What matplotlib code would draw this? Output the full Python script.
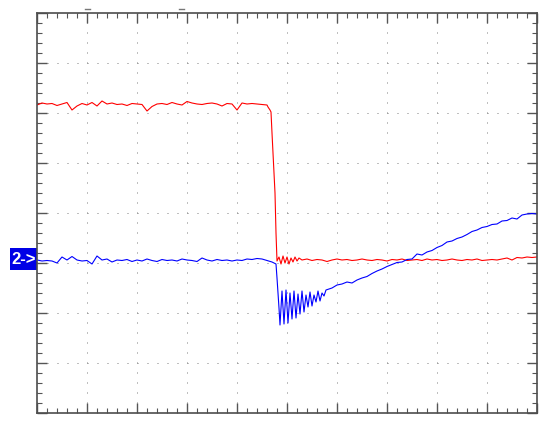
import numpy as np
import matplotlib
matplotlib.use('Agg')
import matplotlib.pyplot as plt
from matplotlib.ticker import MultipleLocator
from matplotlib.patches import Rectangle

# screen is 10 x 8 divisions, values below are in divisions
# channel 1 (red): high level, falling edge, low level
red_hi = [6.16, 6.20, 6.18, 6.19, 6.15, 6.18, 6.21, 6.06, 6.14, 6.19,
          6.16, 6.21, 6.14, 6.24, 6.18, 6.20, 6.17, 6.18, 6.15, 6.19,
          6.18, 6.17, 6.04, 6.13, 6.18, 6.19, 6.17, 6.21, 6.18, 6.16,
          6.23, 6.20, 6.18, 6.17, 6.19, 6.20, 6.18, 6.14, 6.19, 6.18,
          6.06, 6.20, 6.18, 6.19, 6.18, 6.17, 6.16]
red_edge_t = [4.62, 4.66, 4.68, 4.70, 4.72, 4.76, 4.78, 4.80]
red_edge = [6.12, 6.06, 6.02, 5.60, 5.20, 4.40, 3.60, 3.04]
red_settle = [3.12, 2.98, 3.14, 3.00, 3.12, 2.98, 3.10, 3.02, 3.12, 3.04, 3.10]
red_lo = [3.06, 3.08, 3.05, 3.07, 3.06, 3.03, 3.06, 3.08, 3.06, 3.07,
          3.05, 3.06, 3.08, 3.06, 3.05, 3.07, 3.06, 3.04, 3.07, 3.06,
          3.08, 3.05, 3.06, 3.07, 3.05, 3.08, 3.06, 3.07, 3.05, 3.06,
          3.08, 3.06, 3.05, 3.07, 3.06, 3.08, 3.05, 3.06, 3.07, 3.06,
          3.08, 3.10, 3.06, 3.11, 3.10, 3.12, 3.11, 3.12]

# channel 2 (blue): baseline, drop, ringing, slow recovery
blue_base = [3.06, 3.04, 3.05, 3.04, 3.00, 3.12, 3.06, 3.13, 3.06, 3.04,
             3.05, 2.98, 3.14, 3.06, 3.08, 3.02, 3.06, 3.05, 3.07, 3.03,
             3.06, 3.04, 3.08, 3.05, 3.03, 3.07, 3.05, 3.06, 3.04, 3.08,
             3.06, 3.05, 3.03, 3.10, 3.06, 3.04, 3.07, 3.05, 3.06, 3.04,
             3.06, 3.05, 3.08, 3.07, 3.09, 3.08, 3.05, 3.02]
blue_edge_t = [4.74, 4.78, 4.80, 4.82, 4.84]
blue_edge = [3.00, 2.98, 2.70, 2.40, 2.10]
blue_ring = [1.76, 2.44, 1.78, 2.46, 1.80, 2.40, 1.88, 2.44, 1.90, 2.38,
             1.98, 2.44, 2.02, 2.36, 2.12, 2.42, 2.14, 2.36, 2.22, 2.44,
             2.24, 2.40, 2.34, 2.46]
blue_rise = [2.50, 2.56, 2.58, 2.62, 2.60, 2.66, 2.70, 2.73, 2.79, 2.84,
             2.88, 2.93, 2.97, 3.01, 3.02, 3.07, 3.08, 3.18, 3.16, 3.22,
             3.25, 3.31, 3.35, 3.42, 3.44, 3.49, 3.52, 3.57, 3.63, 3.66,
             3.71, 3.73, 3.77, 3.78, 3.84, 3.85, 3.90, 3.88, 3.96, 3.98,
             3.99, 3.98]

ch2_level = 3.04
trig_marks = [1.0, 2.88]

# sample times
red_t = np.concatenate([0.1 * np.arange(len(red_hi)), red_edge_t,
                        4.84 + 0.04 * np.arange(len(red_settle)),
                        5.3 + 0.1 * np.arange(len(red_lo))])
red_y = np.concatenate([red_hi, red_edge, red_settle, red_lo])
blue_t = np.concatenate([0.1 * np.arange(len(blue_base)), blue_edge_t,
                         4.86 + 0.04 * np.arange(len(blue_ring)),
                         5.9 + 0.1 * np.arange(len(blue_rise))])
blue_y = np.concatenate([blue_base, blue_edge, blue_ring, blue_rise])

fig = plt.figure(figsize=(5.5, 4.25), dpi=100)
ax = fig.add_axes([37 / 550, 12 / 425, 500 / 550, 400 / 425])

ax.set_xlim(0, 10)
ax.set_ylim(0, 8)

# dotted graticule
ax.xaxis.set_major_locator(MultipleLocator(1))
ax.yaxis.set_major_locator(MultipleLocator(1))
ax.xaxis.set_minor_locator(MultipleLocator(0.2))
ax.yaxis.set_minor_locator(MultipleLocator(0.2))
ax.grid(True, which='major', color='#808080', linewidth=0.72, linestyle=(0, (1, 9)))
ax.tick_params(which='major', direction='in', length=7.2, width=1.0, color='#555555',
               top=True, right=True, labelbottom=False, labelleft=False)
ax.tick_params(which='minor', direction='in', length=3.6, width=0.8, color='#555555',
               top=True, right=True)
for s in ax.spines.values():
    s.set_color('#4d4d4d')
    s.set_linewidth(1.2)

ax.plot(red_t, red_y, color='#ff0000', linewidth=0.8)
ax.plot(blue_t, blue_y, color='#0000ff', linewidth=0.8)

# trigger markers above the screen
for xm in trig_marks:
    ax.plot([xm - 0.05, xm + 0.05], [8.08, 8.08], color='#777777', linewidth=1.0, clip_on=False)

# channel 2 ground marker
box = Rectangle((-27 / 500, ch2_level - 0.18), 27 / 500, 0.44,
                transform=ax.get_yaxis_transform(), facecolor='#0000e6',
                edgecolor='none', clip_on=False)
ax.add_patch(box)
ax.text(-13.5 / 500, ch2_level + 0.04, '2->', transform=ax.get_yaxis_transform(),
        ha='center', va='center', color='white', fontsize=12, fontweight='bold',
        family='Liberation Sans', clip_on=False)

fig.savefig('out.png', dpi=100)
